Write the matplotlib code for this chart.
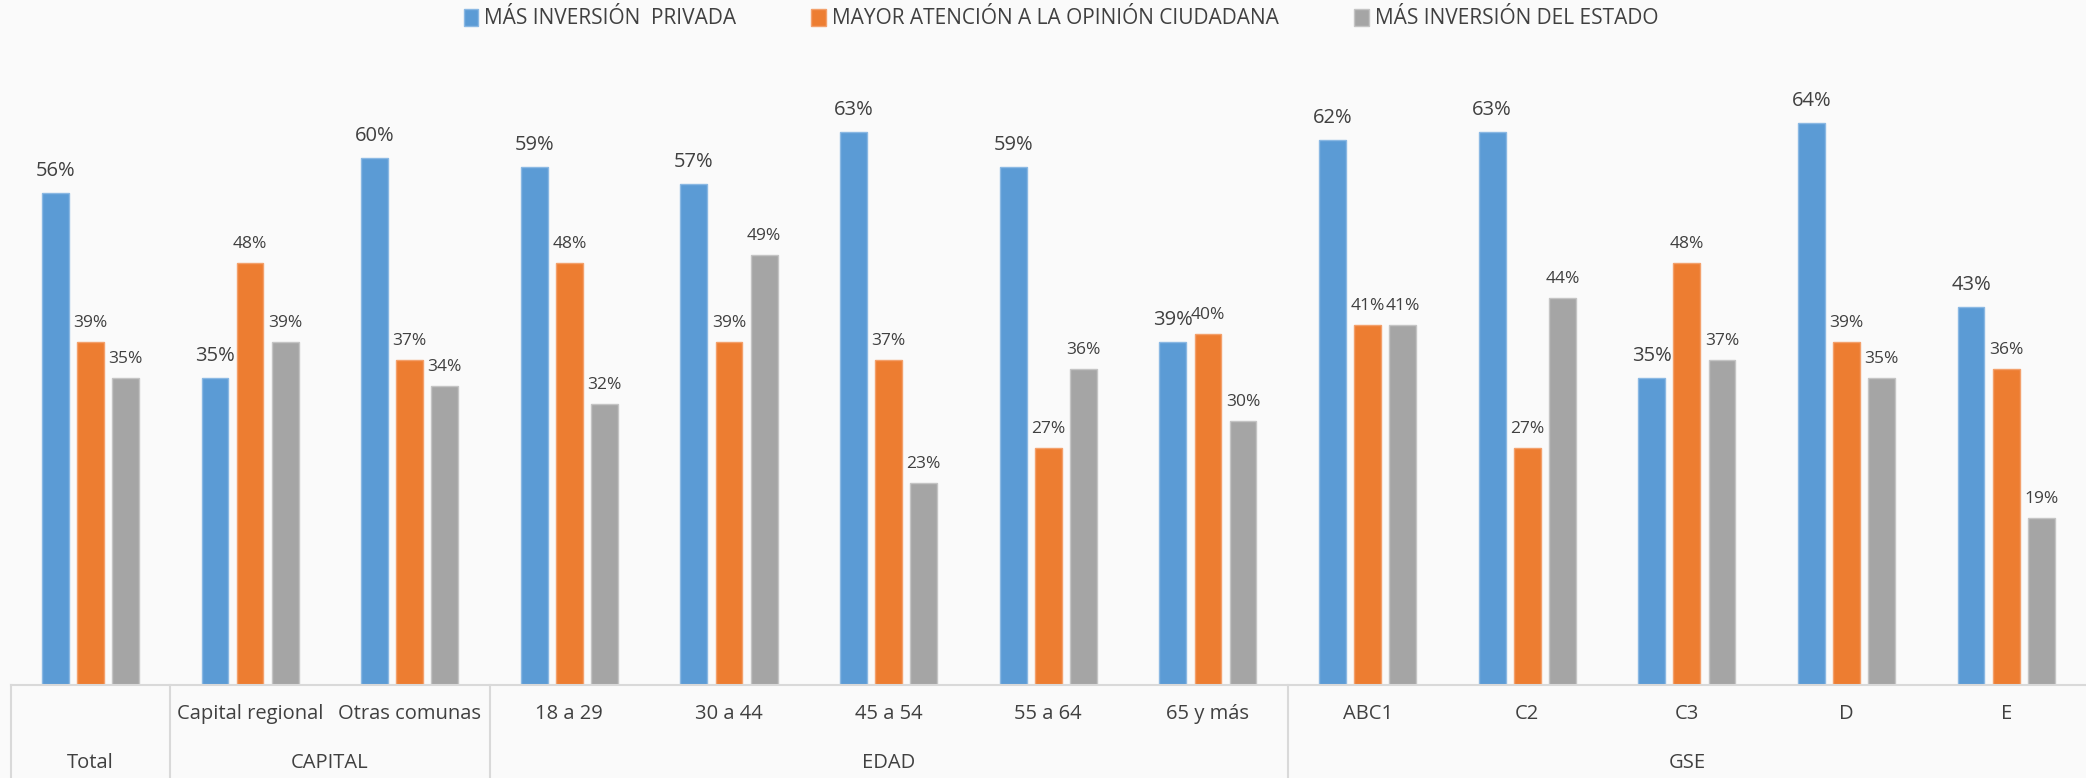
import matplotlib
matplotlib.use("Agg")
import matplotlib.pyplot as plt
import numpy as np

categories = ["Total", "Capital regional", "Otras comunas", "18 a 29", "30 a 44",
              "45 a 54", "55 a 64", "65 y más", "ABC1", "C2", "C3", "D", "E"]
tick_labels = ["", "Capital regional", "Otras comunas", "18 a 29", "30 a 44",
               "45 a 54", "55 a 64", "65 y más", "ABC1", "C2", "C3", "D", "E"]
groups = ["Total", "CAPITAL", "EDAD", "GSE"]
group_spans = [(0, 0), (1, 2), (3, 7), (8, 12)]
series_names = ["MÁS INVERSIÓN  PRIVADA", "MAYOR ATENCIÓN A LA OPINIÓN CIUDADANA",
                "MÁS INVERSIÓN DEL ESTADO"]
privada = [56, 35, 60, 59, 57, 63, 59, 39, 62, 63, 35, 64, 43]
opinion = [39, 48, 37, 48, 39, 37, 27, 40, 41, 27, 48, 39, 36]
estado = [35, 39, 34, 32, 49, 23, 36, 30, 41, 44, 37, 35, 19]

colors = ["#5B9BD5", "#ED7D31", "#A5A5A5"]
edgecolors = ["#8ab8e3", "#f3a06b", "#c4c4c4"]
txt = "#404040"
fam = ["Open Sans", "DejaVu Sans"]
plt.rcParams["font.family"] = fam

W, H = 2086, 778
fig = plt.figure(figsize=(W / 100, H / 100), dpi=100, facecolor="#fafafa")
ax_top, ax_bot = 70, 685
ax = fig.add_axes([10.6 / W, 1 - ax_bot / H, 1 - 10.6 / W, (ax_bot - ax_top) / H])
ax.set_facecolor("none")
ax.set_xlim(-0.5, len(categories) - 0.5)
ax.set_ylim(0, 70)

x = np.arange(len(categories))
offs = [-0.22, 0.0, 0.22]
bw = 0.168
handles = []
for i, (vals, c, ec, name) in enumerate(zip([privada, opinion, estado], colors, edgecolors, series_names)):
    b = ax.bar(x + offs[i], vals, bw, color=c, edgecolor=ec, linewidth=1.0, label=name)
    handles.append(b)
    fs = 14.5 if i == 0 else 12.5
    pad = 12 if i == 0 else 11
    for xi, v in zip(x + offs[i], vals):
        ax.annotate(f"{v}%", (xi, v), xytext=(0, pad), textcoords="offset pixels",
                    ha="center", va="bottom", fontsize=fs, color=txt)

for s in ax.spines.values():
    s.set_visible(False)
ax.set_xticks([])
ax.set_yticks([])

ah = ax_bot - ax_top
def yf(px):
    return (ax_bot - px) / ah

line_c = "#d9d9d9"
xt = ax.get_xaxis_transform()
ax.plot([-0.5, len(categories) - 0.5], [0, 0], color=line_c, lw=1.5, clip_on=False,
        transform=xt)
for bx in [-0.5, 0.5, 2.5, 7.5]:
    ax.plot([bx, bx], [0, yf(H + 5)], color=line_c, lw=1.5, clip_on=False, transform=xt)

for xi, lab in zip(x, tick_labels):
    if lab:
        ax.text(xi, yf(714), lab, ha="center", va="center", fontsize=14.5, color=txt,
                transform=xt, clip_on=False)
for g, (a, b) in zip(groups, group_spans):
    ax.text((a + b) / 2, yf(763), g, ha="center", va="center", fontsize=14.5, color=txt,
            transform=xt, clip_on=False)

leg = fig.legend(handles=handles, labels=series_names, loc="center",
                 bbox_to_anchor=(1061 / W, 1 - 19 / H), ncol=3, frameon=False,
                 fontsize=15, handlelength=0.7, handleheight=0.9, handletextpad=0.3,
                 columnspacing=3.6, labelcolor=txt)

fig.savefig("out.png", dpi=100, facecolor=fig.get_facecolor())
